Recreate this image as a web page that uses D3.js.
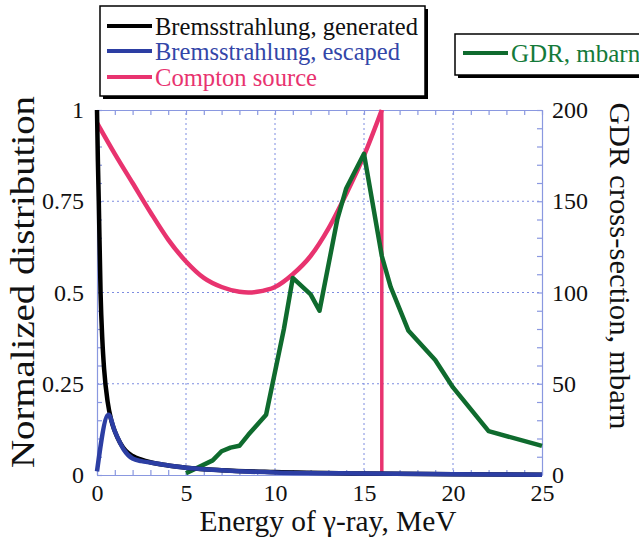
<!DOCTYPE html>
<html>
<head>
<meta charset="utf-8">
<script src="https://cdn.jsdelivr.net/npm/d3@7"></script>
<style>
  body { margin: 0; background: #fff; }
  svg text { font-family: "Liberation Serif", "Times New Roman", Times, "DejaVu Serif", serif; }
</style>
</head>
<body>
<div id="chart"></div>
<script>
// Bremsstrahlung, generated (normalized)
const genEnergy = [0, 0.05, 0.1, 0.2, 0.3, 0.4, 0.6, 0.8, 1, 1.3, 1.6, 2, 2.5, 3, 4, 5, 7, 10, 15, 20, 25];
const genValues = [1.0, 0.86, 0.75, 0.5, 0.37, 0.29, 0.2, 0.15, 0.12, 0.088, 0.067, 0.052, 0.042, 0.035, 0.026, 0.02, 0.013, 0.008, 0.004, 0.002, 0.001];

// Bremsstrahlung, escaped
const escEnergy = [0, 0.65, 1, 1.5, 2, 2.5, 3, 4, 5, 7, 10, 15, 20, 25];
const escValues = [0.01, 0.165, 0.12, 0.07, 0.045, 0.038, 0.034, 0.026, 0.02, 0.013, 0.007, 0.004, 0.002, 0.001];

// Compton source
const comptonEnergy = [0, 1, 2, 3, 4, 5, 6, 7, 8, 8.5, 9, 10, 11, 12, 13, 14, 15, 16];
const comptonValues = [0.965, 0.88, 0.8, 0.72, 0.645, 0.585, 0.54, 0.515, 0.502, 0.5, 0.502, 0.515, 0.55, 0.6, 0.675, 0.77, 0.875, 1.0];
const comptonEdge = 16;

// GDR cross-section, mbarn
const gdrEnergy = [5, 6.5, 7, 7.5, 8, 8.5, 9.5, 10.5, 11, 12, 12.5, 13.5, 14, 15, 16, 16.5, 17.5, 19, 20, 22, 25];
const gdrValues = [1, 8, 13, 15, 16, 22, 33, 80, 108, 99, 90, 140, 157, 176, 120, 103, 79, 63, 48, 24, 16];

// ticks
const xTicks = [0, 5, 10, 15, 20, 25];
const yLeftTicks = [0, 0.25, 0.5, 0.75, 1];
const yLeftLabels = ["0", "0.25", "0.5", "0.75", "1"];
const yRightTicks = [0, 50, 100, 150, 200];

const serif = "'Liberation Serif', 'Times New Roman', Times, serif";
const width = 639, height = 540;
const svg = d3.select("#chart").append("svg").attr("width", width).attr("height", height);

const x = d3.scaleLinear().domain([0, 25]).range([97, 542]);
const yL = d3.scaleLinear().domain([0, 1]).range([475, 110]);
const yR = d3.scaleLinear().domain([0, 200]).range([475, 110]);

const axisColor = "#8a98e0";
const gridColor = "#7d8ce0";

// grid lines
const grid = svg.append("g");
grid.selectAll(".vg").data(xTicks.slice(1, -1)).enter().append("line")
  .attr("x1", d => x(d)).attr("x2", d => x(d))
  .attr("y1", yL(0)).attr("y2", yL(1))
  .attr("stroke", gridColor).attr("stroke-width", 1).attr("stroke-dasharray", "2,3");
grid.selectAll(".hg").data(yLeftTicks.slice(1, -1)).enter().append("line")
  .attr("x1", x(0)).attr("x2", x(25))
  .attr("y1", d => yL(d)).attr("y2", d => yL(d))
  .attr("stroke", gridColor).attr("stroke-width", 1).attr("stroke-dasharray", "2,3");

// frame axes with inward ticks
function styleAxis(g) {
  g.select(".domain").attr("stroke", axisColor).attr("stroke-width", 1.2);
  g.selectAll(".tick line").attr("stroke", axisColor).attr("stroke-width", 1.2);
}
svg.append("g").attr("transform", `translate(0,${yL(0)})`)
  .call(d3.axisBottom(x).tickValues(d3.range(0, 26)).tickSize(-5).tickSizeOuter(0).tickFormat(""))
  .call(styleAxis);
svg.append("g").attr("transform", `translate(0,${yL(1)})`)
  .call(d3.axisTop(x).tickValues(d3.range(0, 26)).tickSize(-5).tickSizeOuter(0).tickFormat(""))
  .call(styleAxis);
svg.append("g").attr("transform", `translate(${x(0)},0)`)
  .call(d3.axisLeft(yL).tickValues(d3.range(0, 1.001, 0.05)).tickSize(-5).tickSizeOuter(0).tickFormat(""))
  .call(styleAxis);
svg.append("g").attr("transform", `translate(${x(25)},0)`)
  .call(d3.axisRight(yR).tickValues(d3.range(0, 201, 10)).tickSize(-5).tickSizeOuter(0).tickFormat(""))
  .call(styleAxis);

// tick labels
function labelAxis(g) {
  g.select(".domain").remove();
  g.attr("font-family", serif).attr("font-size", 24);
  g.selectAll("text").attr("fill", "#111").attr("font-family", serif).attr("font-size", "24px");
}
svg.append("g").attr("transform", `translate(0,${yL(0)})`)
  .call(d3.axisBottom(x).tickValues(xTicks).tickSize(0).tickPadding(9))
  .call(labelAxis);
svg.append("g").attr("transform", `translate(${x(0)},0)`)
  .call(d3.axisLeft(yL).tickValues(yLeftTicks).tickSize(0).tickPadding(13)
    .tickFormat((d, i) => yLeftLabels[i]))
  .call(labelAxis);
svg.append("g").attr("transform", `translate(${x(25)},0)`)
  .call(d3.axisRight(yR).tickValues(yRightTicks).tickSize(0).tickPadding(10))
  .call(labelAxis);

// curves
const compton = comptonEnergy.map((e, i) => [e, comptonValues[i]]);
const gen = genEnergy.map((e, i) => [e, genValues[i]]);
const esc = escEnergy.map((e, i) => [e, escValues[i]]);
const gdr = gdrEnergy.map((e, i) => [e, gdrValues[i]]);

const lineL = d3.line().x(d => x(d[0])).y(d => yL(d[1])).curve(d3.curveMonotoneX);
const lineR = d3.line().x(d => x(d[0])).y(d => yR(d[1]));

const pink = "#e8336f", green = "#0f6b2e", blue = "#2c3ea3";

svg.append("path").datum(compton).attr("d", lineL)
  .attr("fill", "none").attr("stroke", pink).attr("stroke-width", 4.5);
svg.append("line")
  .attr("x1", x(comptonEdge)).attr("x2", x(comptonEdge))
  .attr("y1", yL(comptonValues[comptonValues.length - 1])).attr("y2", yL(0))
  .attr("stroke", pink).attr("stroke-width", 3.5);

svg.append("path").datum(gdr).attr("d", lineR)
  .attr("fill", "none").attr("stroke", green).attr("stroke-width", 4.5).attr("stroke-linejoin", "round");

svg.append("path").datum(gen).attr("d", lineL)
  .attr("fill", "none").attr("stroke", "#000").attr("stroke-width", 4.5);
svg.append("path").datum(esc).attr("d", lineL)
  .attr("fill", "none").attr("stroke", blue).attr("stroke-width", 4.5);

// axis titles
svg.append("text")
  .attr("transform", `translate(34,282) rotate(-90)`)
  .attr("text-anchor", "middle").attr("font-family", serif).attr("font-size", "33px").attr("fill", "#111")
  .attr("textLength", 372).attr("lengthAdjust", "spacingAndGlyphs")
  .text("Normalized distribution");
svg.append("text")
  .attr("transform", `translate(610,266) rotate(90)`)
  .attr("text-anchor", "middle").attr("font-family", serif).attr("font-size", "30px").attr("fill", "#111")
  .attr("textLength", 327).attr("lengthAdjust", "spacingAndGlyphs")
  .text("GDR cross-section, mbarn");
svg.append("text")
  .attr("x", 328).attr("y", 531)
  .attr("text-anchor", "middle").attr("font-family", serif).attr("font-size", "30px").attr("fill", "#111")
  .attr("textLength", 257).attr("lengthAdjust", "spacingAndGlyphs")
  .text("Energy of γ-ray, MeV");

// legend 1
const legendItems = ["Bremsstrahlung, generated", "Bremsstrahlung, escaped", "Compton source"];
const legendColors = ["#000", blue, pink];
const legendTextColors = ["#111", "#3346a8", "#e8336f"];
const legendWidths = [263, 245, 162];

svg.append("rect").attr("x", 103).attr("y", 9).attr("width", 325).attr("height", 90).attr("fill", "#000");
svg.append("rect").attr("x", 100).attr("y", 6).attr("width", 325).attr("height", 90)
  .attr("fill", "#fff").attr("stroke", "#000").attr("stroke-width", 1.5);

const leg = svg.selectAll(".leg").data(legendItems).enter().append("g")
  .attr("transform", (d, i) => `translate(0,${[35, 60, 86][i]})`);
leg.append("line").attr("x1", 107).attr("x2", 152).attr("y1", -9).attr("y2", -9)
  .attr("stroke", (d, i) => legendColors[i]).attr("stroke-width", 4);
leg.append("text").attr("x", 155).attr("font-family", serif).attr("font-size", "25px")
  .attr("fill", (d, i) => legendTextColors[i])
  .attr("textLength", (d, i) => legendWidths[i]).attr("lengthAdjust", "spacingAndGlyphs")
  .text(d => d);

// legend 2
svg.append("rect").attr("x", 458).attr("y", 37).attr("width", 200).attr("height", 41).attr("fill", "#000");
svg.append("rect").attr("x", 455).attr("y", 34).attr("width", 200).attr("height", 41)
  .attr("fill", "#fff").attr("stroke", "#000").attr("stroke-width", 1.5);
svg.append("line").attr("x1", 463).attr("x2", 508).attr("y1", 53).attr("y2", 53)
  .attr("stroke", green).attr("stroke-width", 4);
svg.append("text").attr("x", 511).attr("y", 62).attr("font-family", serif).attr("font-size", "25px").attr("fill", "#147a3a")
  .text("GDR, mbarn");
</script>
</body>
</html>
